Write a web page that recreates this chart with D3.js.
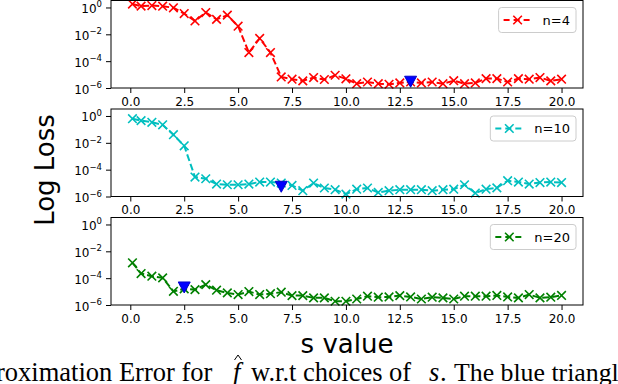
<!DOCTYPE html>
<html>
<head>
<meta charset="utf-8">
<script src="https://cdn.jsdelivr.net/npm/d3@7"></script>
<style>
  body { margin: 0; background: #fff; }
  svg { display: block; }
</style>
</head>
<body>
<svg id="chart" width="618" height="384"></svg>
<script>
// s values on the x axis
const sValues = [0.1, 0.5, 1.0, 1.5, 2.0, 2.5, 3.0, 3.5, 4.0, 4.5, 5.0, 5.5, 6.0, 6.5, 7.0, 7.5,
  8.0, 8.5, 9.0, 9.5, 10.0, 10.5, 11.0, 11.5, 12.0, 12.5, 13.0, 13.5, 14.0, 14.5, 15.0, 15.5,
  16.0, 16.5, 17.0, 17.5, 18.0, 18.5, 19.0, 19.5, 20.0];

// loss per s, one array per n
const lossN4 = [1.8, 1.26, 1.4, 1.25, 0.95, 0.35, 0.1, 0.42, 0.13, 0.27, 0.04, 4.4e-4, 4.9e-3,
  4.4e-4, 6.7e-6, 4.5e-6, 3.4e-6, 6e-6, 4.3e-6, 8.9e-6, 4.8e-6, 2.1e-6, 2.8e-6, 2.1e-6, 1.9e-6,
  2.4e-6, 2.8e-6, 2.4e-6, 2.8e-6, 2.1e-6, 3.5e-6, 2.1e-6, 2.4e-6, 5e-6, 5e-6, 2.8e-6, 5e-6,
  4.5e-6, 6e-6, 3.4e-6, 4.5e-6];
const lossN10 = [0.63, 0.45, 0.34, 0.22, 0.04, 6e-3, 2.8e-5, 2.1e-5, 8.5e-6, 7.5e-6, 7.5e-6,
  8.5e-6, 1.2e-5, 1.2e-5, 1e-5, 6.7e-6, 2.7e-6, 1e-5, 4.3e-6, 3.2e-6, 1.5e-6, 3.5e-6, 4.3e-6,
  2e-6, 2.7e-6, 3.2e-6, 3.2e-6, 3.2e-6, 2.7e-6, 3.2e-6, 3.5e-6, 7.5e-6, 1.8e-6, 3.5e-6, 4.4e-6,
  1.5e-5, 1.2e-5, 8.5e-6, 1.1e-5, 1.2e-5, 1.1e-5];
const lossN20 = [1.4e-3, 2.2e-4, 1.4e-4, 1.05e-4, 1.05e-5, 1.6e-5, 1.4e-5, 3.3e-5, 1.26e-5, 8e-6,
  6e-6, 1e-5, 6e-6, 7e-6, 9e-6, 5e-6, 5e-6, 3.4e-6, 3.4e-6, 1.9e-6, 1.9e-6, 2.8e-6, 4.5e-6,
  3.8e-6, 4e-6, 5e-6, 4e-6, 2.8e-6, 3.8e-6, 3.4e-6, 2.8e-6, 4.5e-6, 4.5e-6, 4.5e-6, 5.2e-6,
  4e-6, 3.4e-6, 6e-6, 3.4e-6, 3.8e-6, 5.2e-6];

const seriesNames = ['n=4', 'n=10', 'n=20'];
const seriesColors = ['#ff0000', '#00bfbf', '#008000'];

// blue triangles (chosen s)
const bestS = [13.0, 7.0, 2.5];
const bestLoss = [3.2e-6, 5.8e-6, 2.2e-5];

const xTicks = [0, 2.5, 5, 7.5, 10, 12.5, 15, 17.5, 20];
const yTickExps = [0, -2, -4, -6];

const allLoss = [lossN4, lossN10, lossN20];

const svg = d3.select('#chart');
const left = 111, right = 583;
const panelTops = [0.5, 109, 217.5];
const panelH = 87.5;
const font = 'DejaVu Sans, sans-serif';

const x = d3.scaleLinear().domain([-0.895, 20.995]).range([left, right]);

allLoss.forEach(function (loss, k) {
  const top = panelTops[k];
  const y = d3.scaleLog().domain([1e-6, Math.pow(10, 0.52)]).range([top + panelH, top]);
  const g = svg.append('g');

  // x axis
  const xAxis = g.append('g')
    .attr('transform', 'translate(0,' + (top + panelH) + ')')
    .call(d3.axisBottom(x).tickValues(xTicks).tickSize(5).tickPadding(4)
      .tickFormat(d3.format('.1f')));
  xAxis.select('.domain').remove();
  xAxis.selectAll('text').attr('font-family', font).attr('font-size', 12).attr('fill', '#000');

  // y axis, labels as 10^k
  const yAxis = g.append('g')
    .attr('transform', 'translate(' + left + ',0)')
    .call(d3.axisLeft(y).tickValues(yTickExps.map(function (e) { return Math.pow(10, e); }))
      .tickSize(5).tickFormat(''));
  yAxis.select('.domain').remove();
  yAxis.selectAll('.tick').each(function (d) {
    const e = Math.round(Math.log10(d));
    const t = d3.select(this).append('text')
      .attr('x', -9).attr('y', 5)
      .attr('text-anchor', 'end')
      .attr('font-family', font).attr('font-size', 12).attr('fill', '#000');
    t.append('tspan').text('10');
    t.append('tspan').attr('dy', -5.5).attr('font-size', 8.5)
      .text(e < 0 ? '\u2212' + (-e) : String(e));
  });

  // series line + x markers
  const pts = sValues.map(function (s, i) { return [s, loss[i]]; });
  const line = d3.line().x(function (d) { return x(d[0]); }).y(function (d) { return y(d[1]); });
  g.append('path')
    .attr('d', line(pts))
    .attr('fill', 'none')
    .attr('stroke', seriesColors[k])
    .attr('stroke-width', 2)
    .attr('stroke-dasharray', '7,3');
  const m = 4.3;
  g.append('g').selectAll('path.mk')
    .data(pts).enter().append('path')
    .attr('d', function (d) {
      const cx = x(d[0]), cy = y(d[1]);
      return 'M' + (cx - m) + ',' + (cy - m) + 'L' + (cx + m) + ',' + (cy + m) +
        'M' + (cx - m) + ',' + (cy + m) + 'L' + (cx + m) + ',' + (cy - m);
    })
    .attr('stroke', seriesColors[k])
    .attr('stroke-width', 1.6);

  // blue triangle
  const tx = x(bestS[k]), ty = y(bestLoss[k]);
  g.append('path')
    .attr('d', 'M' + (tx - 6) + ',' + (ty - 5) + 'L' + (tx + 6) + ',' + (ty - 5) + 'L' + tx + ',' + (ty + 6) + 'Z')
    .attr('fill', '#0000ff')
    .attr('stroke', '#0000cc')
    .attr('stroke-width', 1);

  // frame
  g.append('rect')
    .attr('x', left).attr('y', top)
    .attr('width', right - left).attr('height', panelH)
    .attr('fill', 'none').attr('stroke', '#000').attr('stroke-width', 1);

  // legend
  const lg = g.append('g');
  const box = lg.append('rect')
    .attr('fill', '#fff').attr('fill-opacity', 0.8)
    .attr('stroke', '#cccccc').attr('stroke-width', 1)
    .attr('rx', 3).attr('ry', 3);
  const label = lg.append('text')
    .attr('font-family', font).attr('font-size', 13).attr('fill', '#000')
    .text(seriesNames[k]);
  const tw = label.node().getComputedTextLength();
  const bx1 = right - 7, bx0 = bx1 - (tw + 50);
  const by0 = top + 7, bh = 25, cy = by0 + bh / 2;
  box.attr('x', bx0).attr('y', by0).attr('width', bx1 - bx0).attr('height', bh);
  label.attr('x', bx0 + 44).attr('y', cy + 4.7);
  lg.append('line')
    .attr('x1', bx0 + 5).attr('x2', bx0 + 33).attr('y1', cy).attr('y2', cy)
    .attr('stroke', seriesColors[k]).attr('stroke-width', 2).attr('stroke-dasharray', '6,4');
  const lx = bx0 + 19;
  lg.append('path')
    .attr('d', 'M' + (lx - m) + ',' + (cy - m) + 'L' + (lx + m) + ',' + (cy + m) +
      'M' + (lx - m) + ',' + (cy + m) + 'L' + (lx + m) + ',' + (cy - m))
    .attr('stroke', seriesColors[k]).attr('stroke-width', 1.6);
});

// axis titles
svg.append('text')
  .attr('x', (left + right) / 2).attr('y', 353)
  .attr('text-anchor', 'middle')
  .attr('font-family', font).attr('font-size', 26).attr('fill', '#000')
  .text('s value');
svg.append('text')
  .attr('transform', 'translate(54,170) rotate(-90)')
  .attr('text-anchor', 'middle')
  .attr('font-family', font).attr('font-size', 26).attr('fill', '#000')
  .text('Log Loss');

// caption (cut off at both sides in the source)
const serif = 'Liberation Serif, Times New Roman, serif';
const cap = svg.append('g').attr('font-family', serif).attr('font-size', 26.5).attr('fill', '#000');
cap.append('text').attr('x', -4).attr('y', 381).text('roximation Error for');
cap.append('text').attr('x', 233).attr('y', 381).attr('font-style', 'italic').text('f');
// hat over f
cap.append('path')
  .attr('d', 'M234.5,360L238,355L241.5,360')
  .attr('fill', 'none').attr('stroke', '#000').attr('stroke-width', 1);
cap.append('text').attr('x', 251).attr('y', 381).text('w.r.t choices of');
cap.append('text').attr('x', 429).attr('y', 381).attr('font-style', 'italic').text('s');
cap.append('text').attr('x', 440).attr('y', 381).text('.');
cap.append('text').attr('x', 454).attr('y', 381).attr('font-size', 25.8).text('The blue triangl');
</script>
</body>
</html>
